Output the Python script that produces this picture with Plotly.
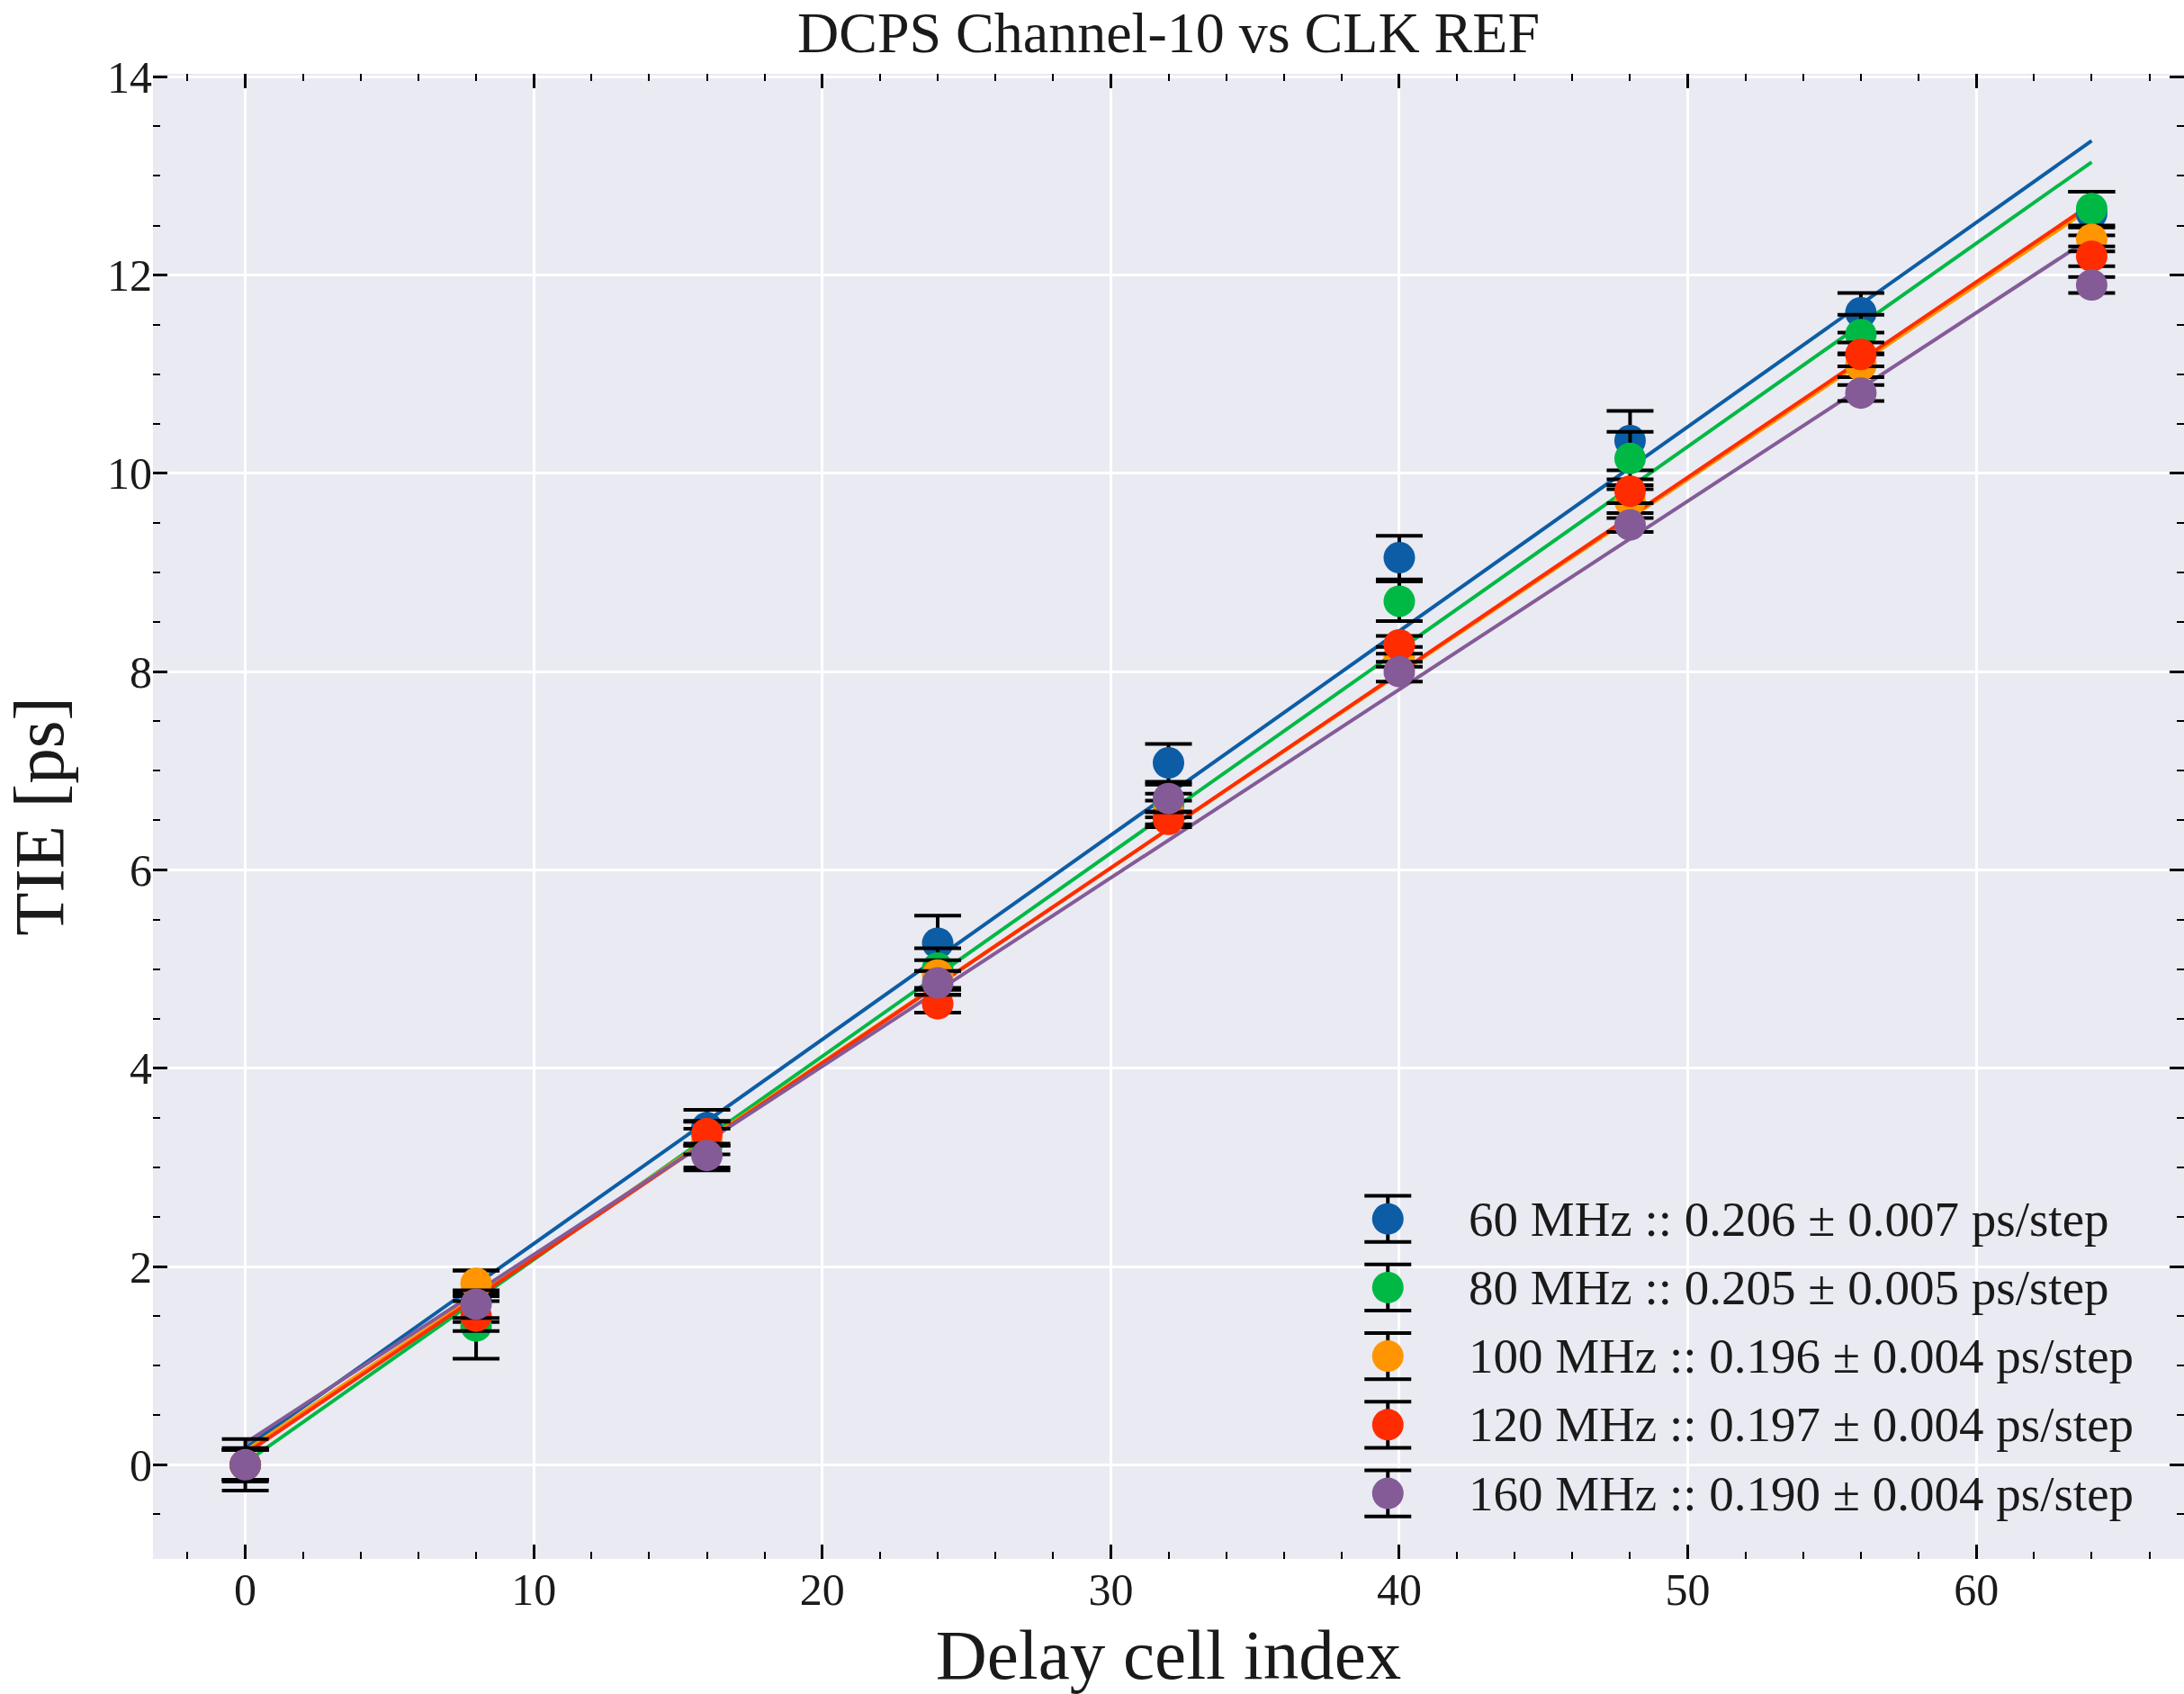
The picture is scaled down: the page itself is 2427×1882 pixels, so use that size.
import plotly.graph_objects as go

# Delay cell index (x) for every measurement
cells = [0, 8, 16, 24, 32, 40, 48, 56, 64]

# Reference clock frequencies and colours
freqs_mhz = [60, 80, 100, 120, 160]
colors = ["#0C5DA5", "#00B945", "#FF9500", "#FF2C00", "#845B97"]

# Measured TIE [ps] per frequency
tie_60 = [0.00, 1.70, 3.40, 5.26, 7.08, 9.15, 10.33, 11.62, 12.62]
tie_80 = [0.00, 1.40, 3.22, 5.01, 6.65, 8.71, 10.15, 11.40, 12.67]
tie_100 = [0.00, 1.83, 3.26, 4.94, 6.58, 8.15, 9.72, 11.09, 12.36]
tie_120 = [0.00, 1.50, 3.34, 4.65, 6.51, 8.27, 9.82, 11.20, 12.19]
tie_160 = [0.00, 1.62, 3.12, 4.86, 6.72, 8.00, 9.48, 10.81, 11.90]

# Uncertainties on TIE [ps]
err_60 = [0.26, 0.26, 0.18, 0.28, 0.19, 0.22, 0.30, 0.20, 0.22]
err_80 = [0.17, 0.33, 0.25, 0.20, 0.12, 0.20, 0.27, 0.20, 0.17]
err_100 = [0.15, 0.13, 0.13, 0.15, 0.12, 0.10, 0.12, 0.12, 0.12]
err_120 = [0.15, 0.15, 0.12, 0.09, 0.08, 0.09, 0.12, 0.12, 0.10]
err_160 = [0.15, 0.14, 0.12, 0.12, 0.14, 0.10, 0.07, 0.08, 0.08]

# Linear fit results: slope [ps/step], its error, intercept [ps]
slopes = [0.206, 0.205, 0.196, 0.197, 0.190]
slope_errs = [0.007, 0.005, 0.004, 0.004, 0.004]
intercepts = [0.17, 0.02, 0.14, 0.11, 0.22]

tie_sets = [tie_60, tie_80, tie_100, tie_120, tie_160]
err_sets = [err_60, err_80, err_100, err_120, err_160]

FONT = "Liberation Serif"
TXT = "#1a1a1a"

fig = go.Figure()

# Fit lines (drawn below the markers)
x_fit = [min(cells), max(cells)]
for m, b, c in zip(slopes, intercepts, colors):
    fig.add_trace(go.Scatter(
        x=x_fit, y=[m * xv + b for xv in x_fit], mode="lines",
        line=dict(color=c, width=4), showlegend=False, hoverinfo="skip"))

# Measurements with error bars
for f, ys, es, c in zip(freqs_mhz, tie_sets, err_sets, colors):
    fig.add_trace(go.Scatter(
        x=cells, y=ys, mode="markers", name=f"{f} MHz",
        marker=dict(color=c, size=35, line=dict(width=0)),
        error_y=dict(type="data", array=es, visible=True,
                     color="black", thickness=4, width=26),
        showlegend=False))

# Hand-built legend: marker + error-bar glyph on an overlay axis in [0, 1]
leg_x_marker = 0.608
leg_x_text = 0.647
leg_y_top = 0.229
leg_step = 0.0462
leg_err = 0.0155
for i, (f, m, me, c) in enumerate(zip(freqs_mhz, slopes, slope_errs, colors)):
    yy = leg_y_top - i * leg_step
    fig.add_trace(go.Scatter(
        x=[leg_x_marker], y=[yy], xaxis="x2", yaxis="y2", mode="markers",
        marker=dict(color=c, size=35, line=dict(width=0)),
        error_y=dict(type="constant", value=leg_err, visible=True,
                     color="black", thickness=4, width=26),
        showlegend=False, hoverinfo="skip"))
    fig.add_annotation(
        x=leg_x_text, y=yy, xref="paper", yref="paper",
        text=f"{f} MHz :: {m:.3f} ± {me:.3f} ps/step",
        showarrow=False, xanchor="left", yanchor="middle",
        font=dict(family=FONT, size=55, color=TXT))

tick_common = dict(
    ticks="inside", ticklen=16, tickwidth=2.5, tickcolor="black",
    mirror="ticks", showline=False, zeroline=False,
    showgrid=True, gridcolor="white", gridwidth=2.5,
    tickfont=dict(family=FONT, size=50, color=TXT),
)

fig.update_layout(
    width=2427, height=1882,
    margin=dict(l=170, r=0, t=82, b=150),
    paper_bgcolor="white", plot_bgcolor="#EAEAF2",
    showlegend=False,
    title=dict(text="DCPS Channel-10 vs CLK REF", x=0.5, xref="paper",
               y=1 - 36 / 1882, yref="container", xanchor="center",
               yanchor="middle",
               font=dict(family=FONT, size=64, color=TXT)),
    xaxis=dict(range=[-3.2, 67.2], dtick=10, tick0=0,
               title=dict(text="Delay cell index", standoff=18,
                          font=dict(family=FONT, size=79, color=TXT)),
               minor=dict(ticks="inside", ticklen=8, tickwidth=2,
                          tickcolor="black", dtick=2, showgrid=False),
               **tick_common),
    yaxis=dict(range=[-0.95, 14.03], dtick=2, tick0=0,
               title=dict(text="TIE [ps]", standoff=28,
                          font=dict(family=FONT, size=79, color=TXT)),
               minor=dict(ticks="inside", ticklen=8, tickwidth=2,
                          tickcolor="black", dtick=0.5, showgrid=False),
               **tick_common),
    xaxis2=dict(overlaying="x", range=[0, 1], visible=False),
    yaxis2=dict(overlaying="y", range=[0, 1], visible=False),
)

fig.write_html("out.html")
